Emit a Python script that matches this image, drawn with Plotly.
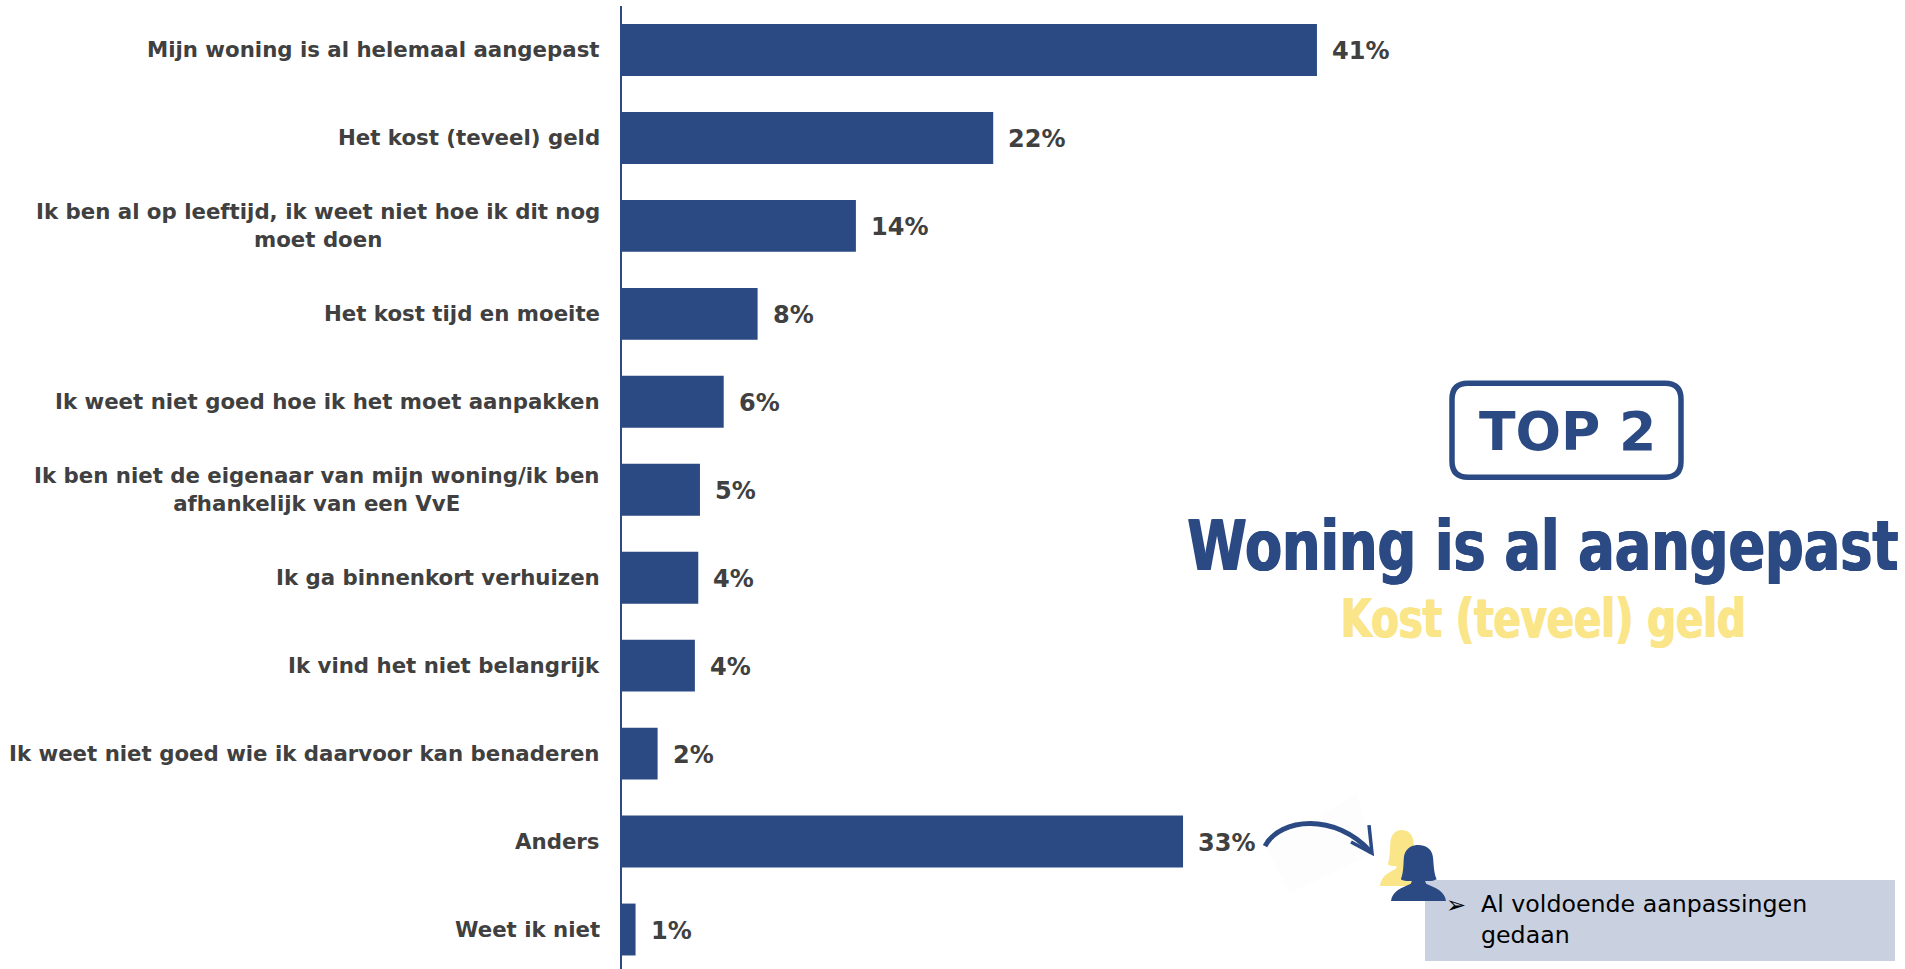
import plotly.graph_objects as go

categories = [
    "Mijn woning is al helemaal aangepast",
    "Het kost (teveel) geld",
    "Ik ben al op leeftijd, ik weet niet hoe ik dit nog<br>moet doen",
    "Het kost tijd en moeite",
    "Ik weet niet goed hoe ik het moet aanpakken",
    "Ik ben niet de eigenaar van mijn woning/ik ben<br>afhankelijk van een VvE",
    "Ik ga binnenkort verhuizen",
    "Ik vind het niet belangrijk",
    "Ik weet niet goed wie ik daarvoor kan benaderen",
    "Anders",
    "Weet ik niet",
]
values = [41, 21.9, 13.8, 8, 6.0, 4.6, 4.5, 4.3, 2.1, 33.1, 0.8]
value_labels = ["41%", "22%", "14%", "8%", "6%", "5%", "4%", "4%", "2%", "33%", "1%"]

BLUE = "#2B4A83"
YELLOW = "#FAE588"
GREY_TEXT = "#404040"
W, H = 1905, 969
L, T = 622, 5.5


def px(x):
    return (x - L) / (W - L)


def py(y):
    return 1 - (y - T) / (H - T)


def path(cmds):
    out = []
    for c in cmds:
        if isinstance(c, str):
            out.append(c)
        else:
            out.append(f"{px(c[0]):.5f},{py(c[1]):.5f}")
    return " ".join(out)


def person(x, y, w, h, color):
    # silhouette in unit coordinates
    pts = lambda a, b: (x + a * w, y + b * h)
    return dict(
        type="path", xref="paper", yref="paper", fillcolor=color, line=dict(width=0), layer="above",
        path=path([
            "M", pts(0.0, 1.0),
            "C", pts(0.02, 0.82), pts(0.2, 0.76), pts(0.36, 0.69),
            "L", pts(0.38, 0.64),
            "C", pts(0.28, 0.65), pts(0.2, 0.63), pts(0.18, 0.61),
            "C", pts(0.24, 0.45), pts(0.22, 0.3), pts(0.24, 0.18),
            "C", pts(0.28, 0.04), pts(0.4, 0.0), pts(0.5, 0.0),
            "C", pts(0.62, 0.0), pts(0.74, 0.06), pts(0.76, 0.2),
            "C", pts(0.78, 0.32), pts(0.77, 0.48), pts(0.83, 0.61),
            "C", pts(0.78, 0.64), pts(0.7, 0.65), pts(0.62, 0.64),
            "L", pts(0.64, 0.69),
            "C", pts(0.8, 0.76), pts(0.98, 0.82), pts(1.0, 1.0),
            "Z",
        ]),
    )


fig = go.Figure(go.Bar(
    y=list(range(len(categories))), x=values, orientation="h",
    marker=dict(color=BLUE, line=dict(width=0)), width=0.59,
    hoverinfo="skip",
))

annotations = []
for i, (cat, val, lab) in enumerate(zip(categories, values, value_labels)):
    annotations.append(dict(
        xref="paper", yref="y", x=0, y=i, xshift=-20, xanchor="right", yanchor="middle",
        text=cat, align="center", showarrow=False,
        font=dict(family="DejaVu Sans", size=21.3, color=GREY_TEXT, weight="bold"),
    ))
    annotations.append(dict(
        xref="x", yref="y", x=val, y=i, xshift=13, yshift=-1, xanchor="left", yanchor="middle",
        text=lab, showarrow=False,
        font=dict(family="DejaVu Sans", size=24, color=GREY_TEXT, weight="bold"),
    ))

annotations += [
    dict(xref="paper", yref="paper", x=px(1567), y=py(431), text="TOP 2", showarrow=False,
         xanchor="center", yanchor="middle",
         font=dict(family="DejaVu Sans", size=53.6, color=BLUE, weight="bold")),
    dict(xref="paper", yref="paper", x=px(1543), y=py(553), text="Woning is al aangepast", showarrow=False,
         xanchor="center", yanchor="middle",
         font=dict(family="DejaVu Sans", size=48, color=BLUE, weight="bold",
                   shadow=f"1px 0 {BLUE}, -1px 0 {BLUE}")),
    dict(xref="paper", yref="paper", x=px(1543), y=py(618), text="Kost (teveel) geld", showarrow=False,
         xanchor="center", yanchor="middle",
         font=dict(family="DejaVu Sans", size=53, color=YELLOW, weight="bold",
                   shadow=f"1px 0 {YELLOW}, -1px 0 {YELLOW}")),
    dict(xref="paper", yref="paper", x=px(1444), y=py(905), text="➢", showarrow=False,
         xanchor="left", yanchor="middle",
         font=dict(family="DejaVu Sans", size=24, color="#000000")),
    dict(xref="paper", yref="paper", x=px(1479), y=py(919), text="Al voldoende aanpassingen<br>gedaan",
         showarrow=False, xanchor="left", yanchor="middle", align="left",
         font=dict(family="DejaVu Sans", size=23.7, color="#000000")),
]

r = 16
bx0, bx1, by0, by1 = 1452, 1681, 383, 477
shapes = [
    # TOP 2 frame
    dict(type="path", xref="paper", yref="paper", line=dict(color=BLUE, width=5.5), layer="above",
         path=path(["M", (bx0 + r, by0), "L", (bx1 - r, by0), "Q", (bx1, by0), (bx1, by0 + r),
                    "L", (bx1, by1 - r), "Q", (bx1, by1), (bx1 - r, by1),
                    "L", (bx0 + r, by1), "Q", (bx0, by1), (bx0, by1 - r),
                    "L", (bx0, by0 + r), "Q", (bx0, by0), (bx0 + r, by0), "Z"])),
    # faint picture background behind the arrow
    dict(type="path", xref="paper", yref="paper", fillcolor="#FDFDFD", line=dict(width=0), layer="above",
         path=path(["M", (1266, 847), "L", (1357, 794), "L", (1374, 853), "L", (1290, 893), "Z"])),
    # arrow
    dict(type="path", xref="paper", yref="paper", line=dict(color=BLUE, width=5), layer="above",
         path=path(["M", (1265, 846), "C", (1280, 818), (1335, 812), (1371, 852)])),
    dict(type="path", xref="paper", yref="paper", line=dict(color=BLUE, width=3.5), layer="above",
         path=path(["M", (1369, 825), "L", (1372, 853), "L", (1351, 842)])),
    person(1380, 830, 44, 56, YELLOW),
    # callout
    dict(type="rect", xref="paper", yref="paper", x0=px(1425), x1=px(1895), y0=py(880), y1=py(961),
         fillcolor="#C9D1E0", line=dict(width=0), layer="above"),
    person(1391, 845, 55, 56, BLUE),
]

fig.update_layout(
    width=W, height=H, paper_bgcolor="white", plot_bgcolor="white",
    margin=dict(l=L, r=0, t=T, b=0, pad=0), showlegend=False,
    bargap=0.41, annotations=annotations, shapes=shapes,
    xaxis=dict(range=[0, (W - L) / 16.95], visible=False, fixedrange=True),
    yaxis=dict(range=[(H - T) / 88 - 0.5, -0.5], showticklabels=False, ticks="", showgrid=False, zeroline=False,
               showline=True, linecolor=BLUE, linewidth=2, fixedrange=True),
)

# The reference headings use a heavy condensed face; enlarge the installed bold face and fit it to the same width.
post = """
document.body.style.margin='0';document.body.style.overflow='hidden';
var fit={'Woning is al aangepast':[711,70],'Kost (teveel) geld':[405,53]};
document.querySelectorAll('text.annotation-text').forEach(function(t){
  var f=fit[t.textContent];
  if(f){t.style.fontSize=f[1]+'px';t.setAttribute('textLength',f[0]);t.setAttribute('lengthAdjust','spacingAndGlyphs');}
});
"""
fig.write_html("out.html", config={"displayModeBar": False}, post_script=post)
